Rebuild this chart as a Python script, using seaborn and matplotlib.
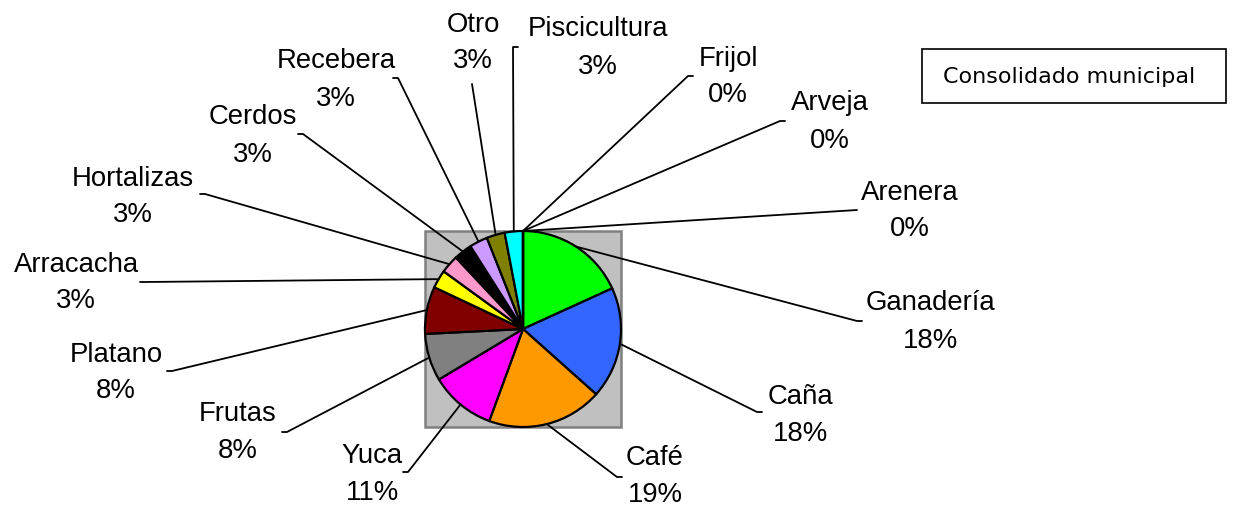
import numpy as np
import matplotlib
matplotlib.use("Agg")
import matplotlib.pyplot as plt
from matplotlib.patches import Rectangle
import seaborn as sns

# ── DATOS ─────────────────────────────────────────────────────────────────────
categorias = ["Ganadería", "Caña", "Café", "Yuca", "Frutas", "Platano",
              "Arracacha", "Hortalizas", "Cerdos", "Recebera", "Otro",
              "Piscicultura", "Frijol", "Arveja", "Arenera"]
valores = [18.2, 18.4, 19.0, 10.8, 7.8, 7.8,
           3.0, 3.0, 3.0, 3.0, 3.0,
           3.0, 0.0, 0.0, 0.0]
colores = ["#00FF00", "#3366FF", "#FF9900", "#FF00FF", "#808080", "#800000",
           "#FFFF00", "#FF99CC", "#000000", "#CC99FF", "#808000",
           "#00FFFF", "#FFFFFF", "#FFFFFF", "#FFFFFF"]
titulo_caja = "Consolidado municipal"

# ── DISEÑO (coordenadas en píxeles, y hacia abajo) ────────────────────────────
W, H = 1244, 510
CENTRO = (523, 330)
RADIO = 98
# punto final de cada línea guía y centro del texto
anclas = [(857, 322), (757, 413), (617, 478), (408, 473), (287, 433), (172, 372),
          (145, 283), (205, 195), (303, 135), (398, 79), (472, 85),
          (513, 48), (688, 77), (780, 122), (857, 211)]
textos = [(930, 322), (800, 416), (655, 477), (372, 475), (238, 433), (116, 373),
          (76, 283), (133, 197), (253, 136), (336, 80), (473, 43),
          (598, 48), (728, 77), (830, 122), (910, 211)]
sin_marca = {"Otro", "Arenera"}

sns.set_style("white")
plt.rcParams["font.family"] = ["Liberation Sans", "DejaVu Sans"]
plt.rcParams["text.color"] = "black"

fig = plt.figure(figsize=(W / 100, H / 100), dpi=100)
ax = fig.add_axes([0, 0, 1, 1])

cx, cy = CENTRO[0], H - CENTRO[1]

# fondo gris del área de gráfico
ax.add_patch(Rectangle((cx - RADIO, cy - RADIO), 2 * RADIO, 2 * RADIO,
                       facecolor="#C0C0C0", edgecolor="#808080", lw=1.8, zorder=0))

wedges, _ = ax.pie(valores, colors=colores, startangle=90, counterclock=False,
                   center=(cx, cy), radius=RADIO, frame=True,
                   wedgeprops=dict(edgecolor="black", linewidth=1.6))

for w, nombre, v, (axx, ayy), (tx, ty) in zip(wedges, categorias, valores, anclas, textos):
    ang = np.deg2rad((w.theta1 + w.theta2) / 2)
    x0 = cx + RADIO * np.cos(ang)
    y0 = cy + RADIO * np.sin(ang)
    x1, y1 = axx, H - ayy
    dx = 0 if nombre in sin_marca else (5 if tx > x1 else -5)
    ax.plot([x0, x1, x1 + dx], [y0, y1, y1], color="black", lw=1.3, zorder=1)
    ax.text(tx, H - ty, f"{nombre}\n{round(v):.0f}%", ha="center", va="center",
            fontsize=19.8, linespacing=1.55, color="black")

# caja del título
ax.add_patch(Rectangle((922, H - 104), 304, 54, facecolor="white",
                       edgecolor="black", lw=1.2))
ax.text(1069, H - 77, titulo_caja, ha="center", va="center", fontsize=16,
        family=["DejaVu Sans"], color="black")

ax.set_xlim(0, W)
ax.set_ylim(0, H)
ax.set_aspect("equal")
ax.axis("off")

plt.savefig("out.png", dpi=100)
